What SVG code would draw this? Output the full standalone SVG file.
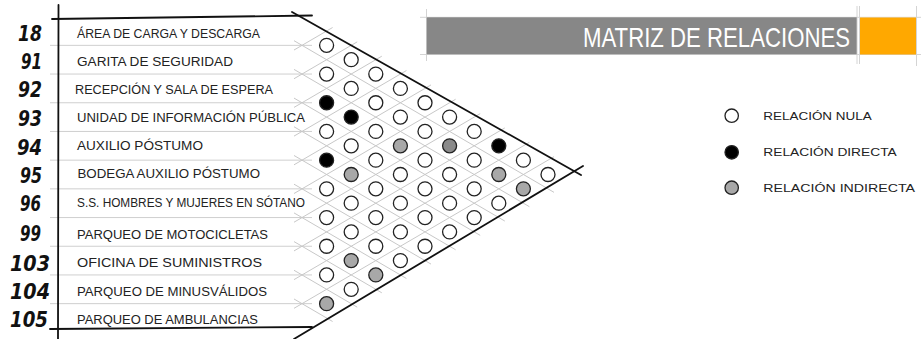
<svg xmlns="http://www.w3.org/2000/svg" width="922" height="339" viewBox="0 0 922 339">
<style>
.num{font-family:"DejaVu Sans","Liberation Sans",sans-serif;font-weight:bold;font-style:italic;font-size:22px;fill:#111}
.lbl{font-family:"Liberation Sans","DejaVu Sans",sans-serif;font-size:12.5px;fill:#222}
.leg{font-family:"Liberation Sans","DejaVu Sans",sans-serif;font-size:11px;fill:#222}
.ttl{font-family:"Liberation Sans","DejaVu Sans",sans-serif;font-size:28px;fill:#fff}
.sep{stroke:#cfcfcf;stroke-width:1;fill:none}
.grid line{stroke:#c8c8c8;stroke-width:1}
.ink{stroke:#111;stroke-width:1.8;fill:none;stroke-linecap:round}
.guide{stroke:#d4d4d4;stroke-width:1}
.c{stroke:#222;stroke-width:1.3}
.w{fill:#fff}
.b{fill:#000}
.g{fill:#a8a8a8}
.gd{fill:#8a8a8a}
</style>

<!-- row separators -->
<g id="separators" class="sep">
<line x1="50" y1="45.35" x2="312" y2="45.35"/>
<line x1="50" y1="74.05" x2="312" y2="74.05"/>
<line x1="50" y1="102.75" x2="312" y2="102.75"/>
<line x1="50" y1="131.45" x2="312" y2="131.45"/>
<line x1="50" y1="160.15" x2="312" y2="160.15"/>
<line x1="50" y1="188.85" x2="312" y2="188.85"/>
<line x1="50" y1="217.55" x2="312" y2="217.55"/>
<line x1="50" y1="246.25" x2="312" y2="246.25"/>
<line x1="50" y1="274.95" x2="312" y2="274.95"/>
<line x1="50" y1="303.65" x2="312" y2="303.65"/>
</g>

<!-- lattice (connectors) -->
<g id="connectors" class="grid">
<line x1="294" y1="40.68" x2="554" y2="192.35"/>
<line x1="294" y1="50.02" x2="332.6" y2="27.5"/>
<line x1="294" y1="69.38" x2="529.4" y2="206.7"/>
<line x1="294" y1="78.72" x2="357.2" y2="41.85"/>
<line x1="294" y1="98.08" x2="504.8" y2="221.05"/>
<line x1="294" y1="107.42" x2="381.8" y2="56.2"/>
<line x1="294" y1="126.78" x2="480.2" y2="235.39"/>
<line x1="294" y1="136.12" x2="406.4" y2="70.55"/>
<line x1="294" y1="155.48" x2="455.6" y2="249.75"/>
<line x1="294" y1="164.82" x2="431" y2="84.9"/>
<line x1="294" y1="184.18" x2="431" y2="264.1"/>
<line x1="294" y1="193.52" x2="455.6" y2="99.25"/>
<line x1="294" y1="212.88" x2="406.4" y2="278.45"/>
<line x1="294" y1="222.22" x2="480.2" y2="113.61"/>
<line x1="294" y1="241.58" x2="381.8" y2="292.8"/>
<line x1="294" y1="250.92" x2="504.8" y2="127.95"/>
<line x1="294" y1="270.28" x2="357.2" y2="307.15"/>
<line x1="294" y1="279.62" x2="529.4" y2="142.3"/>
<line x1="294" y1="298.98" x2="332.6" y2="321.5"/>
<line x1="294" y1="308.32" x2="554" y2="156.65"/>
</g>

<!-- frame -->
<g id="frame" class="ink">
<line x1="58.5" y1="5" x2="58" y2="339"/>
<line x1="52" y1="19" x2="312" y2="15.5"/>
<line x1="50" y1="329" x2="312" y2="327"/>
<line x1="292" y1="12" x2="581" y2="175"/>
<line x1="294" y1="339" x2="583" y2="166"/>
</g>

<!-- rows -->
<g id="row-18"><text class="num" x="18" y="41" textLength="24" lengthAdjust="spacingAndGlyphs">18</text><text class="lbl" x="77" y="37.8" textLength="183" lengthAdjust="spacingAndGlyphs">ÁREA DE CARGA Y DESCARGA</text></g>
<g id="row-91"><text class="num" x="21" y="69" textLength="21" lengthAdjust="spacingAndGlyphs">91</text><text class="lbl" x="77" y="66.2" textLength="156" lengthAdjust="spacingAndGlyphs">GARITA DE SEGURIDAD</text></g>
<g id="row-92"><text class="num" x="18" y="97" textLength="24" lengthAdjust="spacingAndGlyphs">92</text><text class="lbl" x="75" y="93.5" textLength="198" lengthAdjust="spacingAndGlyphs">RECEPCIÓN Y SALA DE ESPERA</text></g>
<g id="row-93"><text class="num" x="18" y="125.5" textLength="24" lengthAdjust="spacingAndGlyphs">93</text><text class="lbl" x="77" y="121.8" textLength="228" lengthAdjust="spacingAndGlyphs">UNIDAD DE INFORMACIÓN PÚBLICA</text></g>
<g id="row-94"><text class="num" x="17" y="154.5" textLength="25" lengthAdjust="spacingAndGlyphs">94</text><text class="lbl" x="77" y="150.2" textLength="126" lengthAdjust="spacingAndGlyphs">AUXILIO PÓSTUMO</text></g>
<g id="row-95"><text class="num" x="20" y="183.3" textLength="22" lengthAdjust="spacingAndGlyphs">95</text><text class="lbl" x="77.5" y="177.8" textLength="182.5" lengthAdjust="spacingAndGlyphs">BODEGA AUXILIO PÓSTUMO</text></g>
<g id="row-96"><text class="num" x="20" y="211.3" textLength="21" lengthAdjust="spacingAndGlyphs">96</text><text class="lbl" x="77" y="206.8" textLength="228" lengthAdjust="spacingAndGlyphs">S.S. HOMBRES Y MUJERES EN SÓTANO</text></g>
<g id="row-99"><text class="num" x="20" y="241.3" textLength="21" lengthAdjust="spacingAndGlyphs">99</text><text class="lbl" x="77" y="238.8" textLength="191" lengthAdjust="spacingAndGlyphs">PARQUEO DE MOTOCICLETAS</text></g>
<g id="row-103"><text class="num" x="10" y="271.3" textLength="40" lengthAdjust="spacingAndGlyphs">103</text><text class="lbl" x="77" y="267.2" textLength="185" lengthAdjust="spacingAndGlyphs">OFICINA DE SUMINISTROS</text></g>
<g id="row-104"><text class="num" x="10" y="299.3" textLength="40" lengthAdjust="spacingAndGlyphs">104</text><text class="lbl" x="77" y="295.5" textLength="190" lengthAdjust="spacingAndGlyphs">PARQUEO DE MINUSVÁLIDOS</text></g>
<g id="row-105"><text class="num" x="10" y="327.3" textLength="38" lengthAdjust="spacingAndGlyphs">105</text><text class="lbl" x="77" y="323.5" textLength="181" lengthAdjust="spacingAndGlyphs">PARQUEO DE AMBULANCIAS</text></g>

<!-- matrix cells -->
<g id="matrix" class="c">
<circle class="w" cx="326.6" cy="45.35" r="7"/>
<circle class="w" cx="326.6" cy="74.05" r="7"/>
<circle class="b" cx="326.6" cy="102.75" r="7"/>
<circle class="w" cx="326.6" cy="131.45" r="7"/>
<circle class="b" cx="326.6" cy="160.15" r="7"/>
<circle class="w" cx="326.6" cy="188.85" r="7"/>
<circle class="w" cx="326.6" cy="217.55" r="7"/>
<circle class="w" cx="326.6" cy="246.25" r="7"/>
<circle class="w" cx="326.6" cy="274.95" r="7"/>
<circle class="g" cx="326.6" cy="303.65" r="7"/>

<circle class="w" cx="351.2" cy="59.7" r="7"/>
<circle class="w" cx="351.2" cy="88.4" r="7"/>
<circle class="b" cx="351.2" cy="117.1" r="7"/>
<circle class="w" cx="351.2" cy="145.8" r="7"/>
<circle class="g" cx="351.2" cy="174.5" r="7"/>
<circle class="w" cx="351.2" cy="203.2" r="7"/>
<circle class="w" cx="351.2" cy="231.9" r="7"/>
<circle class="g" cx="351.2" cy="260.6" r="7"/>
<circle class="w" cx="351.2" cy="289.3" r="7"/>

<circle class="w" cx="375.8" cy="74.05" r="7"/>
<circle class="w" cx="375.8" cy="102.75" r="7"/>
<circle class="w" cx="375.8" cy="131.45" r="7"/>
<circle class="w" cx="375.8" cy="160.15" r="7"/>
<circle class="w" cx="375.8" cy="188.85" r="7"/>
<circle class="w" cx="375.8" cy="217.55" r="7"/>
<circle class="w" cx="375.8" cy="246.25" r="7"/>
<circle class="g" cx="375.8" cy="274.95" r="7"/>

<circle class="w" cx="400.4" cy="88.4" r="7"/>
<circle class="w" cx="400.4" cy="117.1" r="7"/>
<circle class="g" cx="400.4" cy="145.8" r="7"/>
<circle class="w" cx="400.4" cy="174.5" r="7"/>
<circle class="w" cx="400.4" cy="203.2" r="7"/>
<circle class="w" cx="400.4" cy="231.9" r="7"/>
<circle class="w" cx="400.4" cy="260.6" r="7"/>

<circle class="w" cx="425" cy="102.75" r="7"/>
<circle class="w" cx="425" cy="131.45" r="7"/>
<circle class="w" cx="425" cy="160.15" r="7"/>
<circle class="w" cx="425" cy="188.85" r="7"/>
<circle class="w" cx="425" cy="217.55" r="7"/>
<circle class="w" cx="425" cy="246.25" r="7"/>

<circle class="w" cx="449.6" cy="117.1" r="7"/>
<circle class="gd" cx="449.6" cy="145.8" r="7"/>
<circle class="w" cx="449.6" cy="174.5" r="7"/>
<circle class="w" cx="449.6" cy="203.2" r="7"/>
<circle class="w" cx="449.6" cy="231.9" r="7"/>

<circle class="w" cx="474.2" cy="131.45" r="7"/>
<circle class="w" cx="474.2" cy="160.15" r="7"/>
<circle class="w" cx="474.2" cy="188.85" r="7"/>
<circle class="w" cx="474.2" cy="217.55" r="7"/>

<circle class="b" cx="498.8" cy="145.8" r="7"/>
<circle class="g" cx="498.8" cy="174.5" r="7"/>
<circle class="w" cx="498.8" cy="203.2" r="7"/>

<circle class="w" cx="523.4" cy="160.15" r="7"/>
<circle class="g" cx="523.4" cy="188.85" r="7"/>

<circle class="w" cx="548" cy="174.5" r="7"/>
</g>

<!-- title -->
<g id="title">
<line class="guide" x1="420" y1="17.3" x2="921" y2="17.3"/>
<line class="guide" x1="420" y1="54.5" x2="921" y2="54.5"/>
<line class="guide" x1="426.5" y1="9" x2="426.5" y2="61"/>
<line class="guide" x1="857" y1="6" x2="857" y2="64"/>
<line class="guide" x1="859.5" y1="6" x2="859.5" y2="64"/>
<line class="guide" x1="916.5" y1="6" x2="916.5" y2="66"/>
<rect x="426.7" y="17.3" width="430" height="37" fill="#878787"/>
<rect x="860" y="17.5" width="56" height="37" fill="#FFA800"/>
<text class="ttl" x="583" y="46.7" textLength="267" lengthAdjust="spacingAndGlyphs">MATRIZ DE RELACIONES</text>
</g>

<!-- legend -->
<g id="legend-nula"><circle class="c w" cx="731.7" cy="115.7" r="6.7"/><text class="leg" x="763.3" y="119.6" textLength="108.4" lengthAdjust="spacingAndGlyphs">RELACIÓN NULA</text></g>
<g id="legend-directa"><circle class="c b" cx="731.7" cy="152.3" r="6.7"/><text class="leg" x="763.3" y="156.2" textLength="133.4" lengthAdjust="spacingAndGlyphs">RELACIÓN DIRECTA</text></g>
<g id="legend-indirecta"><circle class="c g" cx="731.7" cy="187.7" r="6.7"/><text class="leg" x="763.3" y="191.6" textLength="151.7" lengthAdjust="spacingAndGlyphs">RELACIÓN INDIRECTA</text></g>
</svg>
